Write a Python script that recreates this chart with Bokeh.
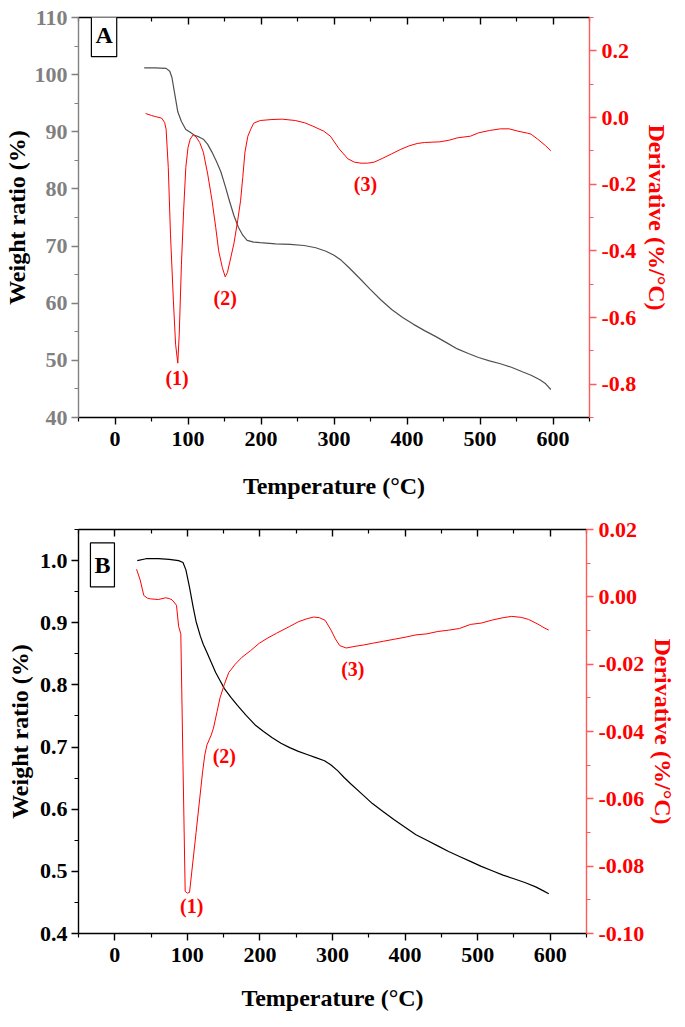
from bokeh.plotting import figure
from bokeh.models import (Range1d, LinearAxis, FixedTicker, PrintfTickFormatter, Label,
                          CustomLabelingPolicy)
from bokeh.layouts import column
from bokeh.embed import file_html
from bokeh.resources import INLINE
from bokeh.core.properties import value

FONT = "Liberation Serif"

# ---------------- Panel A data ----------------
a_tg_T = [40, 55, 70, 75, 78, 82, 86, 91, 97, 103, 109, 115, 121, 127, 133, 139, 145, 151, 157, 163,
          169, 175, 181, 190, 199, 220, 240, 259, 275, 289, 300, 310, 320, 334, 349, 364, 379, 394,
          409, 424, 439, 454, 469, 484, 498, 513, 528, 543, 558, 570, 582, 590, 597]
a_tg_W = [101.2, 101.2, 101.1, 100.6, 99.5, 96.5, 93.5, 91.8, 90.4, 89.9, 89.4, 89.1, 88.7, 87.8, 86.4,
          84.8, 83.0, 80.5, 77.8, 75.3, 73.3, 71.9, 71.0, 70.7, 70.6, 70.4, 70.3, 70.1, 69.7, 69.1,
          68.4, 67.5, 66.3, 64.5, 62.5, 60.6, 58.9, 57.5, 56.3, 55.2, 54.2, 53.1, 52.0, 51.2, 50.5,
          49.9, 49.4, 48.8, 48.0, 47.4, 46.6, 45.9, 44.9]
a_dtg_T = [42, 50, 55, 64, 68, 70, 73, 76, 80, 83, 86, 88, 91, 94, 97, 100, 103, 107, 111, 116, 121,
           127, 133, 138, 142, 147, 151, 154, 157, 163, 168, 172, 175, 178, 182, 186, 190, 199, 215,
           229, 247, 260, 271, 286, 295, 307, 319, 328, 337, 346, 355, 367, 379, 391, 403, 414, 424,
           445, 458, 469, 487, 498, 513, 528, 540, 552, 565, 570, 579, 590, 597]
a_dtg_D = [0.012, 0.006, 0.003, -0.002, -0.015, -0.035, -0.15, -0.35, -0.55, -0.68, -0.737, -0.65,
           -0.44, -0.28, -0.15, -0.09, -0.065, -0.052, -0.058, -0.075, -0.104, -0.17, -0.25, -0.33,
           -0.40, -0.45, -0.478, -0.465, -0.436, -0.377, -0.31, -0.25, -0.18, -0.104, -0.056, -0.035,
           -0.017, -0.009, -0.006, -0.005, -0.009, -0.016, -0.026, -0.041, -0.056, -0.094, -0.124,
           -0.134, -0.137, -0.137, -0.134, -0.122, -0.109, -0.096, -0.085, -0.078, -0.075, -0.073,
           -0.068, -0.061, -0.056, -0.046, -0.039, -0.034, -0.034, -0.041, -0.047, -0.05, -0.065,
           -0.085, -0.1]
a_ann_T = [85, 151, 343]
a_ann_W = [46.9, 61.0, 80.9]
a_ann_text = ["(1)", "(2)", "(3)"]
a_left_ticks = [40, 50, 60, 70, 80, 90, 100, 110]
a_left_minor = [45, 55, 65, 75, 85, 95, 105]
a_right_ticks = [-0.8, -0.6, -0.4, -0.2, 0.0, 0.2]
a_right_minor = [-0.9, -0.7, -0.5, -0.3, -0.1, 0.1, 0.3]

# ---------------- Panel B data ----------------
b_tg_T = [31, 43, 60, 75, 88, 94, 98, 103, 108, 112, 118, 122, 127, 133, 139, 145, 151, 160, 169, 181,
          193, 205, 217, 229, 241, 253, 265, 277, 289, 298, 307, 316, 325, 340, 355, 370, 385, 400,
          415, 430, 445, 460, 475, 490, 505, 520, 535, 550, 565, 580, 590, 598]
b_tg_W = [1.000, 1.003, 1.003, 1.002, 1.000, 0.997, 0.985, 0.957, 0.925, 0.902, 0.878, 0.865, 0.852,
          0.836, 0.820, 0.807, 0.794, 0.780, 0.767, 0.751, 0.736, 0.725, 0.715, 0.706, 0.699, 0.693,
          0.688, 0.683, 0.678, 0.671, 0.662, 0.651, 0.641, 0.625, 0.609, 0.596, 0.583, 0.571, 0.559,
          0.550, 0.541, 0.532, 0.524, 0.516, 0.508, 0.501, 0.494, 0.488, 0.482, 0.475, 0.469, 0.464]
b_dtg_T = [30, 35, 40, 45, 49, 60, 70, 75, 79, 85, 88, 91, 94, 97, 100, 103, 112, 121, 124, 127, 133,
           136, 141, 145, 151, 157, 166, 175, 187, 199, 211, 223, 241, 253, 265, 274, 282, 290, 298,
           304, 310, 319, 331, 343, 355, 370, 385, 400, 415, 430, 445, 460, 475, 490, 505, 520, 535,
           547, 560, 570, 583, 590, 598]
b_dtg_D = [0.0082, 0.005, 0.0004, -0.0004, -0.0006, -0.0008, -0.0003, -0.0005, -0.0009, -0.0025,
           -0.0088, -0.011, -0.05, -0.0875, -0.088, -0.0878, -0.070, -0.052, -0.047, -0.044, -0.041,
           -0.039, -0.034, -0.030, -0.026, -0.0225, -0.020, -0.018, -0.016, -0.0138, -0.0122,
           -0.0108, -0.0088, -0.0074, -0.0065, -0.006, -0.0062, -0.007, -0.0099, -0.0125, -0.0145,
           -0.0152, -0.0147, -0.0143, -0.0138, -0.0132, -0.0126, -0.012, -0.0113, -0.011, -0.0103,
           -0.0099, -0.0094, -0.0082, -0.0078, -0.0069, -0.0062, -0.0058, -0.0061, -0.0067,
           -0.0081, -0.009, -0.0099]
b_ann_T = [106, 151, 328]
b_ann_W = [0.444, 0.686, 0.825]
b_ann_text = ["(1)", "(2)", "(3)"]
b_left_ticks = [0.4, 0.5, 0.6, 0.7, 0.8, 0.9, 1.0]
b_left_minor = [0.45, 0.55, 0.65, 0.75, 0.85, 0.95, 1.05]
b_right_ticks = [-0.10, -0.08, -0.06, -0.04, -0.02, 0.00, 0.02]
b_right_minor = [-0.09, -0.07, -0.05, -0.03, -0.01, 0.01]

x_ticks = [0, 100, 200, 300, 400, 500, 600]
x_minor = [-50, 50, 150, 250, 350, 450, 550, 650]

RED = "#ff0000"
RED_AXIS = "#ff5a5a"


def style_axis(ax, line_color, label_color, ticks, minor, fmt, inward=False, hide_labels=False):
    ax.ticker = FixedTicker(ticks=ticks, minor_ticks=minor)
    ax.formatter = PrintfTickFormatter(format=fmt)
    ax.axis_line_color = line_color
    ax.axis_line_width = 1.4
    ax.major_tick_line_color = line_color
    ax.minor_tick_line_color = line_color
    ax.major_tick_line_width = 1.4
    ax.minor_tick_line_width = 1.2
    ax.major_label_text_color = label_color
    ax.major_label_text_font = FONT
    ax.major_label_text_font_style = "bold"
    ax.major_label_text_font_size = "22px"
    ax.major_label_standoff = 5
    ax.axis_label_text_font = FONT
    ax.axis_label_text_font_style = "bold"
    ax.axis_label_text_font_size = "24px"
    if inward:
        ax.major_tick_in, ax.major_tick_out = 7, 0
        ax.minor_tick_in, ax.minor_tick_out = 4, 0
    else:
        ax.major_tick_in, ax.major_tick_out = 0, 7
        ax.minor_tick_in, ax.minor_tick_out = 0, 4
    if hide_labels:
        ax.major_label_policy = CustomLabelingPolicy(code="return []")
        ax.major_label_standoff = 0


def make_panel(tg_T, tg_W, dtg_T, dtg_D, ann_T, ann_W, ann_text, yr, dr,
               lticks, lminor, lfmt, rticks, rminor, rfmt, left_color, tg_color,
               letter, letter_xy, fw, fh, bl, br, bt, bb, r_label_standoff, l_label_standoff,
               x_label_standoff):
    p = figure(output_backend="svg", toolbar_location=None,
               frame_width=fw, frame_height=fh,
               min_border_left=bl, min_border_right=br, min_border_top=bt, min_border_bottom=bb,
               x_range=Range1d(-50, 650), y_range=Range1d(*yr),
               x_axis_location=None, y_axis_location=None)
    p.extra_y_ranges = {"d": Range1d(*dr)}
    p.grid.visible = False
    p.outline_line_color = None
    p.background_fill_color = "white"
    p.border_fill_color = "white"

    xb = LinearAxis(axis_label="Temperature (°C)")
    style_axis(xb, "black", "black", x_ticks, x_minor, "%d")
    xb.major_label_standoff = 7
    xb.axis_label_standoff = x_label_standoff
    xb.axis_label_text_color = "black"
    p.add_layout(xb, "below")

    xt = LinearAxis()
    style_axis(xt, "black", "black", x_ticks, x_minor, "%d", inward=True, hide_labels=True)
    p.add_layout(xt, "above")

    yl = LinearAxis(axis_label="Weight ratio (%)")
    style_axis(yl, left_color, left_color, lticks, lminor, lfmt)
    yl.major_label_standoff = 4
    yl.axis_label_text_color = "black"
    yl.axis_label_standoff = l_label_standoff
    p.add_layout(yl, "left")

    yr_ax = LinearAxis(y_range_name="d", axis_label="Derivative (%/°C)")
    style_axis(yr_ax, RED_AXIS, RED, rticks, rminor, rfmt)
    yr_ax.axis_label_text_color = RED
    yr_ax.axis_label_orientation = "vertical"
    yr_ax.axis_label_standoff = r_label_standoff
    p.add_layout(yr_ax, "right")

    p.line(tg_T, tg_W, line_color=tg_color, line_width=1.2)
    p.line(dtg_T, dtg_D, line_color=RED, line_width=1.0, y_range_name="d")

    p.text(x=ann_T, y=ann_W, text=ann_text, text_color=RED, text_font=value(FONT),
           text_font_style="bold", text_font_size="20px", text_align="center",
           text_baseline="middle")

    p.add_layout(Label(x=letter_xy[0], y=letter_xy[1], text=letter, text_font=FONT,
                       text_font_style="bold", text_font_size="24px", text_color="black",
                       text_align="center", text_baseline="middle",
                       border_line_color="black", border_line_width=1.2,
                       background_fill_color="white", padding=(4, 9)))
    return p


# top: 11 + 400 + 92 = 503 tall, 73 + 511 + 81 = 665 wide
pa = make_panel(a_tg_T, a_tg_W, a_dtg_T, a_dtg_D, a_ann_T, a_ann_W, a_ann_text,
                (40, 110), (-0.9, 0.3), a_left_ticks, a_left_minor, "%d",
                a_right_ticks, a_right_minor, "%.1f", "#808080", "#505050",
                "A", (-15, 107.0), 511, 400, 73, 81, 11, 92, 5, 2, 24)
# bottom: 20 + 404 + 84 = 508 tall, 70 + 508 + 89 = 667 wide
pb = make_panel(b_tg_T, b_tg_W, b_dtg_T, b_dtg_D, b_ann_T, b_ann_W, b_ann_text,
                (0.4, 1.05), (-0.10, 0.02), b_left_ticks, b_left_minor, "%.1f",
                b_right_ticks, b_right_minor, "%.2f", "black", "black",
                "B", (-17, 0.993), 508, 404, 70, 89, 20, 84, 3, 4, 20)

layout = column(pa, pb, spacing=0)
open("out.html", "w").write(file_html(layout, INLINE))
